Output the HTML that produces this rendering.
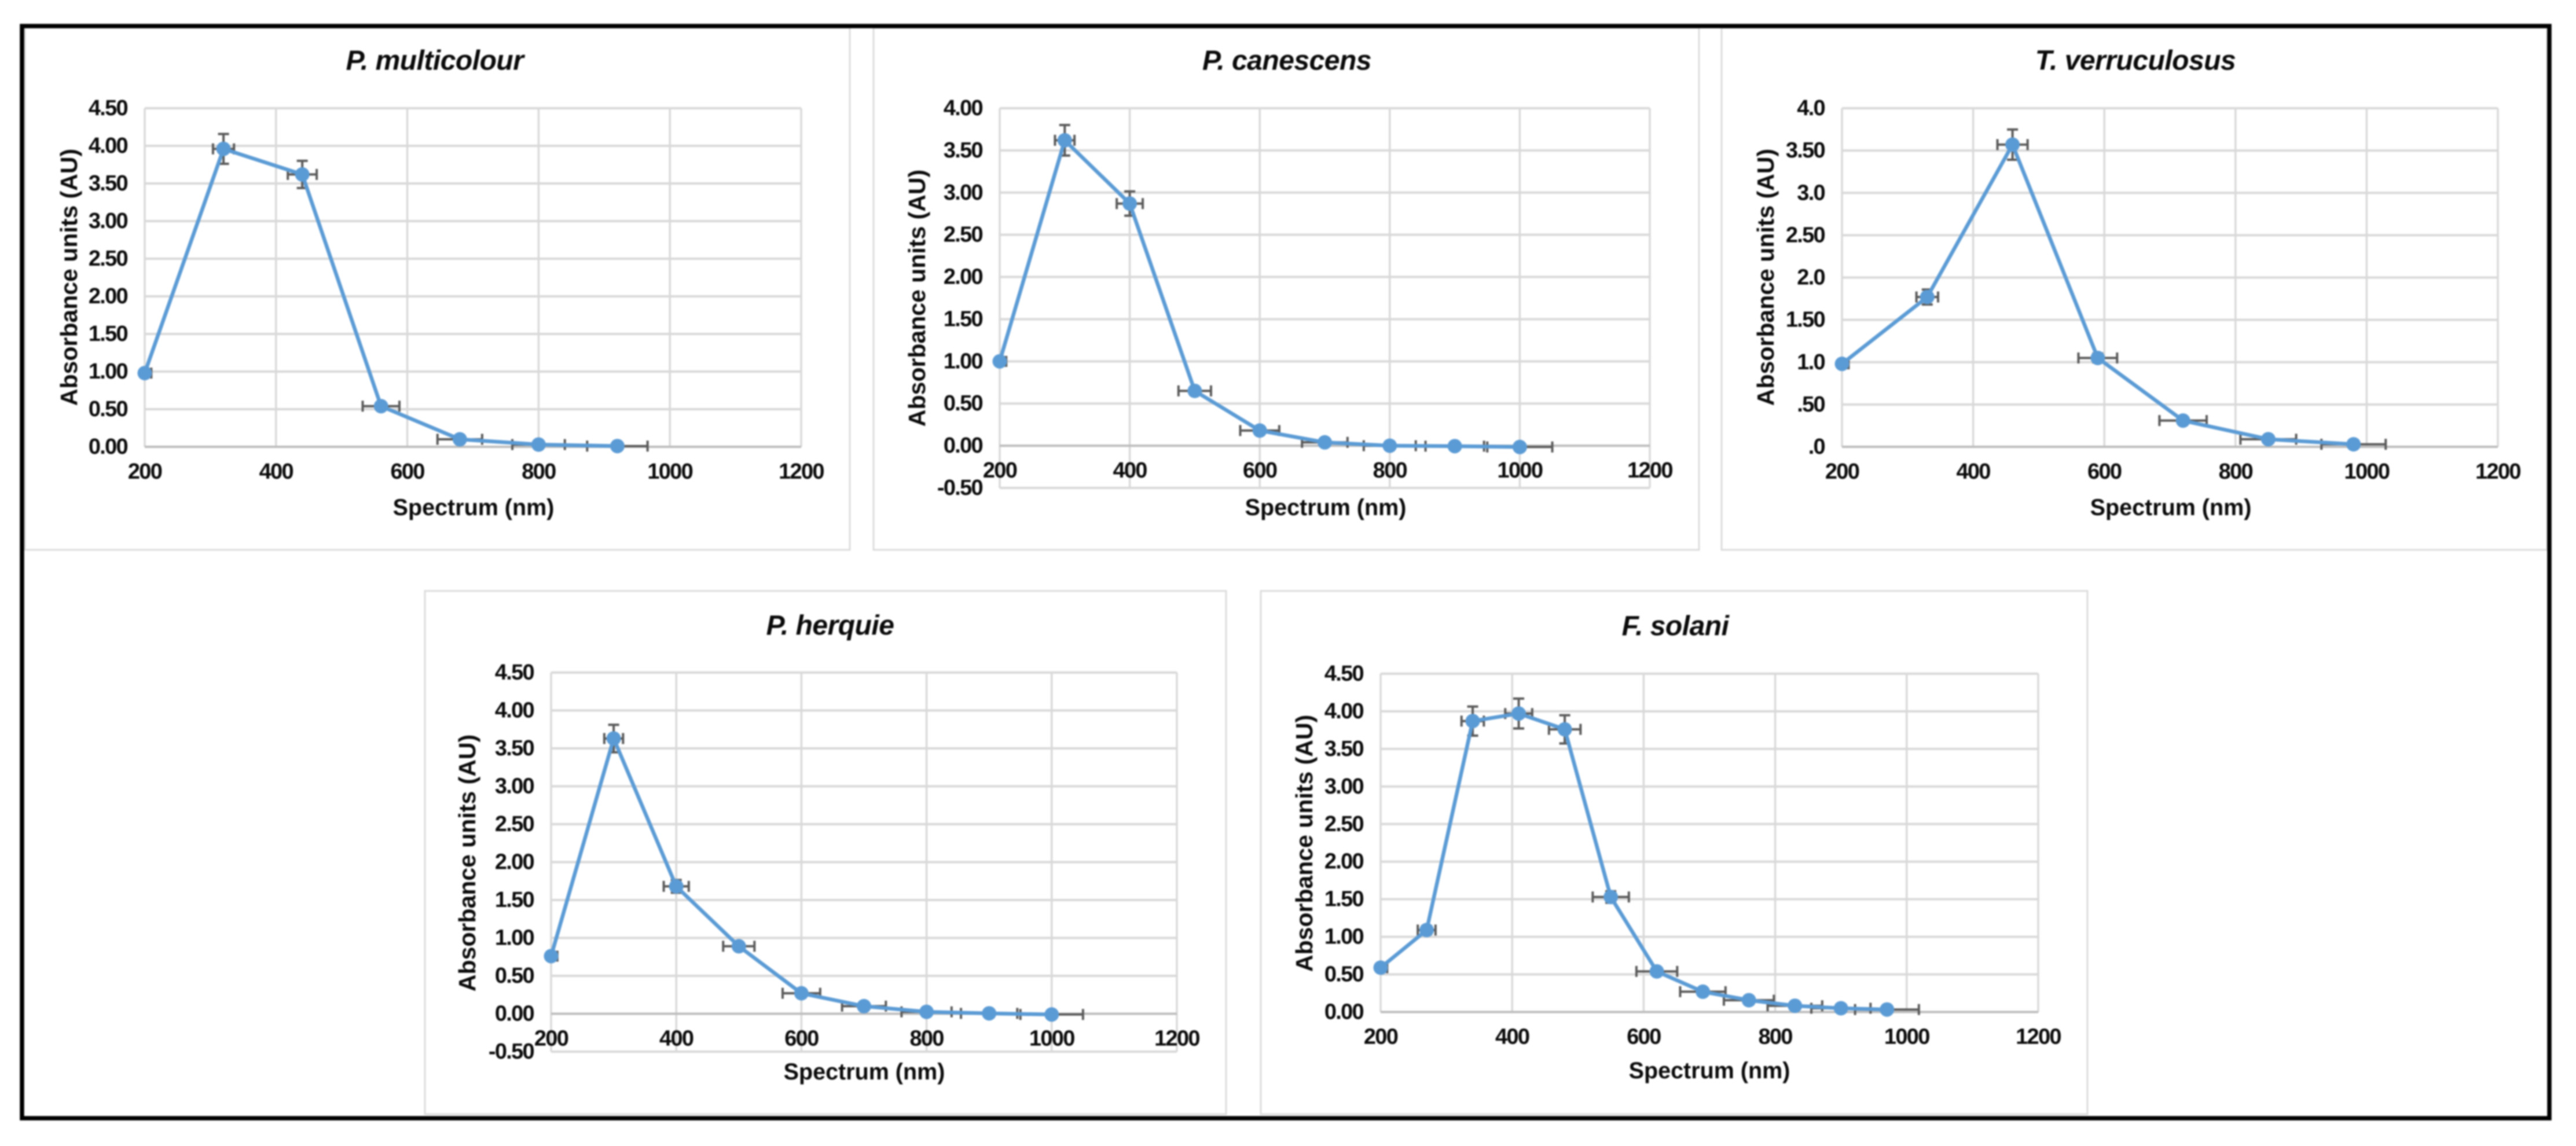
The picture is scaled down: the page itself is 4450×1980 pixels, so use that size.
<!DOCTYPE html>
<html lang="en">
<head>
<meta charset="utf-8">
<title>Absorbance spectra of five fungal species</title>
<style>
html,body{margin:0;padding:0;background:#fff;width:4450px;height:1980px;overflow:hidden}
svg{display:block;filter:blur(1.3px)}
text{font-family:"Liberation Sans",Arial,sans-serif;fill:#0a0a0a}
.chart-title{font-size:48px;font-weight:bold;font-style:italic;text-anchor:middle;dominant-baseline:central;letter-spacing:-.5px}
.axis-title{font-size:39.5px;font-weight:bold;text-anchor:middle;dominant-baseline:central}
.y-title{font-size:41px}
.tick{font-size:38px;font-weight:bold;letter-spacing:-1.7px;dominant-baseline:central}
.panel{fill:#fff;stroke:#dcdcdc;stroke-width:3}
</style>
</head>
<body>
<svg id="figure" xmlns="http://www.w3.org/2000/svg" width="4450" height="1980" viewBox="0 0 4450 1980">
  <rect x="0" y="0" width="4450" height="1980" fill="#fff"/>

  <rect class="panel" x="43" y="48" width="1425" height="902"/>
  <rect class="panel" x="1509" y="48" width="1426" height="902"/>
  <rect class="panel" x="2974" y="48" width="1426" height="902"/>
  <rect class="panel" x="734" y="1021" width="1384" height="904"/>
  <rect class="panel" x="2178" y="1021" width="1428" height="904"/>

  <g id="chart-1"></g>
  <g id="chart-2"></g>
  <g id="chart-3"></g>
  <g id="chart-4"></g>
  <g id="chart-5"></g>

  <text class="chart-title" x="751" y="105">P. multicolour</text>
  <text class="chart-title" x="2223" y="105">P. canescens</text>
  <text class="chart-title" x="3689" y="105">T. verruculosus</text>
  <text class="chart-title" x="1434" y="1081">P. herquie</text>
  <text class="chart-title" x="2894" y="1082">F. solani</text>

  <text class="axis-title" x="818" y="877">Spectrum (nm)</text>
  <text class="axis-title" x="2290" y="877">Spectrum (nm)</text>
  <text class="axis-title" x="3750" y="877">Spectrum (nm)</text>
  <text class="axis-title" x="1493" y="1852">Spectrum (nm)</text>
  <text class="axis-title" x="2953" y="1850">Spectrum (nm)</text>

  <text class="axis-title y-title" transform="translate(119 479) rotate(-90)">Absorbance units (AU)</text>
  <text class="axis-title y-title" transform="translate(1584 515) rotate(-90)">Absorbance units (AU)</text>
  <text class="axis-title y-title" transform="translate(3050 479) rotate(-90)">Absorbance units (AU)</text>
  <text class="axis-title y-title" transform="translate(807 1491) rotate(-90)">Absorbance units (AU)</text>
  <text class="axis-title y-title" transform="translate(2253 1457) rotate(-90)">Absorbance units (AU)</text>

  <rect x="38" y="45" width="4366" height="1887" fill="none" stroke="#000" stroke-width="7.5"/>
</svg>

<script>
// Shared x axis ticks
const xTickLabels = ["200", "400", "600", "800", "1000", "1200"];
// Excel-style percentage error bars
const errorFraction = 0.05;

// P. multicolour
const multicolourWavelengths = [200, 320, 440, 560, 680, 800, 920];
const multicolourAbsorbance = [0.98, 3.96, 3.62, 0.54, 0.10, 0.03, 0.01];
const multicolourYTicks = ["0.00", "0.50", "1.00", "1.50", "2.00", "2.50", "3.00", "3.50", "4.00", "4.50"];

// P. canescens
const canescensWavelengths = [200, 300, 400, 500, 600, 700, 800, 900, 1000];
const canescensAbsorbance = [1.00, 3.62, 2.87, 0.65, 0.18, 0.04, 0.00, -0.005, -0.015];
const canescensYTicks = ["-0.50", "0.00", "0.50", "1.00", "1.50", "2.00", "2.50", "3.00", "3.50", "4.00"];

// T. verruculosus
const verruculosusWavelengths = [200, 330, 460, 590, 720, 850, 980];
const verruculosusAbsorbance = [0.98, 1.77, 3.57, 1.05, 0.31, 0.09, 0.03];
const verruculosusYTicks = [".0", ".50", "1.0", "1.50", "2.0", "2.50", "3.0", "3.50", "4.0"];

// P. herquie
const herquieWavelengths = [200, 300, 400, 500, 600, 700, 800, 900, 1000];
const herquieAbsorbance = [0.76, 3.63, 1.68, 0.89, 0.27, 0.10, 0.025, 0.005, -0.01];
const herquieYTicks = ["-0.50", "0.00", "0.50", "1.00", "1.50", "2.00", "2.50", "3.00", "3.50", "4.00", "4.50"];

// F. solani
const solaniWavelengths = [200, 270, 340, 410, 480, 550, 620, 690, 760, 830, 900, 970];
const solaniAbsorbance = [0.59, 1.09, 3.87, 3.97, 3.76, 1.53, 0.54, 0.27, 0.157, 0.083, 0.05, 0.033];
const solaniYTicks = ["0.00", "0.50", "1.00", "1.50", "2.00", "2.50", "3.00", "3.50", "4.00", "4.50"];

const SVG_NS = "http://www.w3.org/2000/svg";

function make(parent, tag, attrs) {
  const node = document.createElementNS(SVG_NS, tag);
  for (const key in attrs) node.setAttribute(key, attrs[key]);
  parent.appendChild(node);
  return node;
}

function drawChart(id, frame, xs, ys, yTickLabels) {
  const root = document.getElementById(id);
  const tickNumbers = yTickLabels.map(Number);
  const yMin = Math.min.apply(null, tickNumbers);
  const yMax = Math.max.apply(null, tickNumbers);
  const xMin = 200;
  const xMax = 1200;
  const sx = function (v) { return frame.left + (v - xMin) / (xMax - xMin) * (frame.right - frame.left); };
  const sy = function (v) { return frame.bottom - (v - yMin) / (yMax - yMin) * (frame.bottom - frame.top); };

  const clip = make(root, "clipPath", { id: id + "-clip" });
  make(clip, "rect", { x: frame.left - 1, y: frame.top - 40, width: frame.right - frame.left + 2, height: frame.bottom - frame.top + 80 });

  // Gridlines and tick labels
  xTickLabels.forEach(function (label) {
    const value = Number(label);
    const grid = make(root, "line", { x1: sx(value), x2: sx(value), y1: frame.top, y2: frame.bottom, stroke: "#d9d9d9", "stroke-width": 3.5 });
    
    
    const text = make(root, "text", { class: "tick", x: sx(value), y: sy(0) + 43, "text-anchor": "middle" });
    text.textContent = label;
    
    
  });
  yTickLabels.forEach(function (label) {
    const value = Number(label);
    const grid = make(root, "line", { x1: frame.left, x2: frame.right, y1: sy(value), y2: sy(value), stroke: value === 0 ? "#bdbdbd" : "#d9d9d9", "stroke-width": 4 });
    
    
    const text = make(root, "text", { class: "tick", x: frame.left - 30, y: sy(value), "text-anchor": "end" });
    text.textContent = label;
    
    
  });

  // Error bars
  const errorGroup = make(root, "g", { "clip-path": "url(#" + id + "-clip)", stroke: "#5a5a5a", "stroke-width": 4, fill: "none" });
  
  
  xs.forEach(function (xValue, i) {
    const yValue = ys[i];
    const px = sx(xValue);
    const py = sy(yValue);
    const xLow = sx(xValue * (1 - errorFraction));
    const xHigh = sx(xValue * (1 + errorFraction));
    const yLow = sy(yValue * (1 - errorFraction));
    const yHigh = sy(yValue * (1 + errorFraction));
    const capSize = 9.5;
    const bar = make(errorGroup, "path", {
      d: "M" + xLow + " " + py + "H" + xHigh +
         "M" + xLow + " " + (py - capSize) + "V" + (py + capSize) +
         "M" + xHigh + " " + (py - capSize) + "V" + (py + capSize) +
         "M" + px + " " + yLow + "V" + yHigh +
         "M" + (px - capSize) + " " + yLow + "H" + (px + capSize) +
         "M" + (px - capSize) + " " + yHigh + "H" + (px + capSize)
    });
    
    
  });

  // Series line
  const points = xs.map(function (xValue, i) { return sx(xValue) + "," + sy(ys[i]); }).join(" ");
  const line = make(root, "polyline", { points: points, fill: "none", stroke: "#5b9bd5", "stroke-width": 6.5, "stroke-linejoin": "round" });
  
  

  // Markers
  xs.forEach(function (xValue, i) {
    const marker = make(root, "circle", { cx: sx(xValue), cy: sy(ys[i]), r: 12.5, fill: "#5b9bd5" });
    
    
  });
}

drawChart("chart-1", { left: 250, right: 1384, top: 187, bottom: 772 }, multicolourWavelengths, multicolourAbsorbance, multicolourYTicks);
drawChart("chart-2", { left: 1727, right: 2850, top: 187, bottom: 843 }, canescensWavelengths, canescensAbsorbance, canescensYTicks);
drawChart("chart-3", { left: 3182, right: 4315, top: 187, bottom: 772 }, verruculosusWavelengths, verruculosusAbsorbance, verruculosusYTicks);
drawChart("chart-4", { left: 952, right: 2033, top: 1162, bottom: 1817 }, herquieWavelengths, herquieAbsorbance, herquieYTicks);
drawChart("chart-5", { left: 2385, right: 3521, top: 1164, bottom: 1748.5 }, solaniWavelengths, solaniAbsorbance, solaniYTicks);
</script>
</body>
</html>
